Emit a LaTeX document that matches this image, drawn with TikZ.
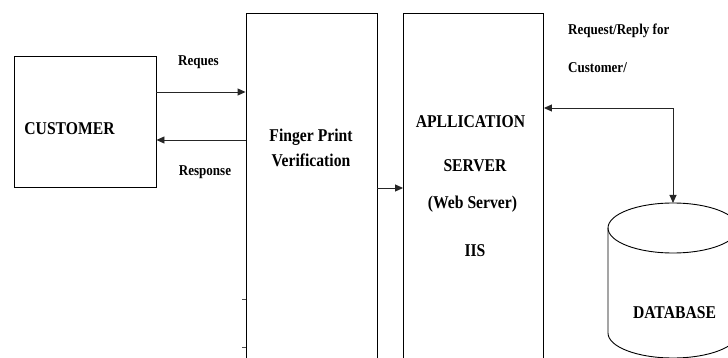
\documentclass[tikz,border=0pt]{standalone}
\usepackage{fontspec}
\setmainfont{Liberation Serif}
\usetikzlibrary{arrows.meta}
\newcommand\sqz[1]{\scalebox{0.87}[1]{#1}}
\tikzset{
  box/.style={draw=black, line width=0.9pt, inner sep=0pt},
  big/.style={font=\fontsize{18}{20}\selectfont\bfseries, inner sep=0pt, anchor=base},
  small/.style={font=\fontsize{15}{17}\selectfont\bfseries, inner sep=0pt, anchor=base},
  link/.style={draw=black!85, line width=0.9pt, -{Triangle[length=8pt,width=7pt]}},
  tick/.style={draw=black!70, line width=1pt},
}
\begin{document}
\begin{tikzpicture}[x=1pt, y=-1pt]
\useasboundingbox (0,0) rectangle (728,358);
\clip (0,0) rectangle (728,358);

% main blocks (the two tall blocks run past the lower edge)
\node[box, minimum width=142pt, minimum height=131pt] (cust) at (85,121.5) {};
\node[box, minimum width=131pt, minimum height=367pt] (fpv) at (311.5,196.5) {};
\node[box, minimum width=140pt, minimum height=367pt] (app) at (473.5,196.5) {};

% block texts
\node[big] (custtxt) at (69.5,135) {\sqz{CUSTOMER}};
\node[big] (fpv1) at (311,142) {\sqz{Finger Print}};
\node[big] (fpv2) at (311,167) {\sqz{Verification}};
\node[big] (app1) at (470.5,128) {\sqz{APLLICATION}};
\node[big] (app2) at (475,172) {\sqz{SERVER}};
\node[big] (app3) at (472.5,209) {\sqz{(Web Server)}};
\node[big] (app4) at (475,256) {\sqz{IIS}};

% database cylinder
\draw[box] (608,228) -- (608,333) arc[start angle=180, end angle=0, x radius=65, y radius=25] -- (738,228);
\draw[box] (673,228) ellipse[x radius=65, y radius=25];
\coordinate (dbtop) at (673,203);
\node[big] (dbtxt) at (674.5,318) {\sqz{DATABASE}};

% connectors
\draw[link] (cust.east |- 0,92) -- (fpv.west |- 0,92);
\draw[link] (fpv.west |- 0,140) -- (cust.east |- 0,140);
\draw[link] (fpv.east |- 0,188) -- (app.west |- 0,188);
\draw[link, {Triangle[length=8pt,width=7pt]}-{Triangle[length=8pt,width=7pt]}]
  (app.east |- 0,108) -| (dbtop);

% connector labels
\node[small] (lreq) at (198.5,66) {\sqz{Reques}};
\node[small] (lresp) at (205,176) {\sqz{Response}};
\node[small, anchor=base west] (ldb1) at (568,35) {\sqz{Request/Reply for}};
\node[small, anchor=base west] (ldb2) at (568,73) {\sqz{Customer/}};

% small marks on the verification block
\draw[tick] (242,299) -- (fpv.west |- 0,299);
\draw[tick] (242,347) -- (fpv.west |- 0,347);
\end{tikzpicture}
\end{document}
